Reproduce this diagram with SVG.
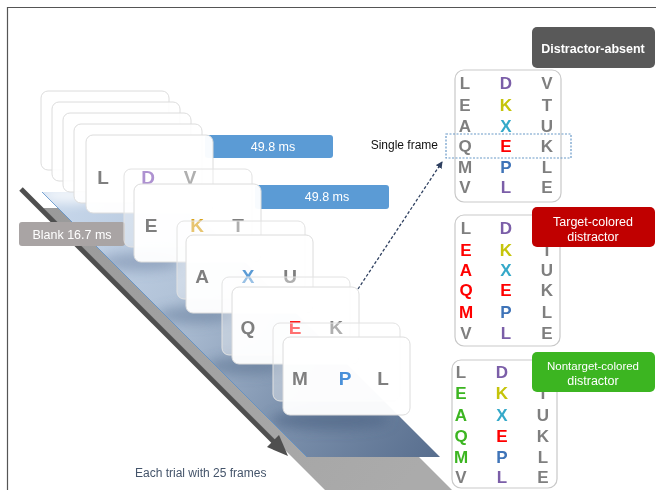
<svg xmlns="http://www.w3.org/2000/svg" width="656" height="490" viewBox="0 0 656 490">
<defs>
<style>
.fb{fill:#fff;fill-opacity:0.92;stroke:#dcdcdc;stroke-width:1}
.fk{fill:#fff;fill-opacity:0.38;stroke:#e2e2e2;stroke-width:1}
.ff{fill:#fff;fill-opacity:0.96;stroke:#dcdcdc;stroke-width:1}
.fl{font-family:"Liberation Sans",Arial,sans-serif;font-weight:bold;font-size:19px;text-anchor:middle}
.gl{font-family:"Liberation Sans",Arial,sans-serif;font-weight:bold;font-size:17px;text-anchor:middle}
.lab{font-family:"Liberation Sans",Arial,sans-serif;font-size:12.5px;fill:#fff;text-anchor:middle}
.gry{fill:#7f7f7f}
.grid{fill:#fff;stroke:#c9c9c9;stroke-width:1.2}
</style>
<linearGradient id="floorG" gradientUnits="userSpaceOnUse" x1="42" y1="192" x2="440" y2="457">
<stop offset="0" stop-color="#c9d9ed"/>
<stop offset="0.35" stop-color="#b2c3d8"/>
<stop offset="0.7" stop-color="#7a8fab"/>
<stop offset="1" stop-color="#586e8e"/>
</linearGradient>
<linearGradient id="shadG" gradientUnits="userSpaceOnUse" x1="43" y1="208" x2="400" y2="490">
<stop offset="0" stop-color="#9a9a9a"/>
<stop offset="1" stop-color="#ababab"/>
</linearGradient>
<filter id="blur" x="-50%" y="-50%" width="200%" height="200%"><feGaussianBlur stdDeviation="6"/></filter>
<clipPath id="floorClip"><polygon points="42,192 175,192 440,457 307,457"/></clipPath>
<marker id="ah" markerWidth="8" markerHeight="8" refX="6" refY="4" orient="auto" markerUnits="userSpaceOnUse">
<path d="M0,0.5 L7,4 L0,7.5 Z" fill="#2f4060"/>
</marker>
</defs>
<rect width="656" height="490" fill="#fff"/>
<path d="M7.5,490 V7.5 H656" fill="none" stroke="#555" stroke-width="1.2"/>

<g id="timeline">
<polygon points="43,208 170,208 452,490 325,490" fill="url(#shadG)"/>
<polygon points="42,192 175,192 440,457 307,457" fill="url(#floorG)"/>
<g clip-path="url(#floorClip)" filter="url(#blur)">
<ellipse cx="140" cy="262" rx="40" ry="9" fill="#6f86a6" opacity="0.5"/>
<ellipse cx="195" cy="315" rx="40" ry="9" fill="#5f7797" opacity="0.5"/>
<ellipse cx="245" cy="366" rx="40" ry="9" fill="#556d8d" opacity="0.5"/>
<ellipse cx="330" cy="420" rx="60" ry="10" fill="#4b6283" opacity="0.6"/>
<ellipse cx="70" cy="195" rx="30" ry="8" fill="#ffffff" opacity="0.8"/>
</g>
<line x1="42" y1="192" x2="307" y2="457" stroke="#5b8fc8" stroke-width="0.8"/>
<line x1="21" y1="189" x2="279" y2="447" stroke="#4f4f4f" stroke-width="5"/>
<polygon points="288,456 267,447 279,435" fill="#4f4f4f"/>
</g>

<g id="blank-label">
<rect x="19" y="222" width="106" height="24" rx="3" fill="#a9a4a4"/>
<text class="lab" x="72" y="239">Blank 16.7 ms</text>
</g>

<g id="frame-stack">
<rect class="fb" x="41" y="91" width="128" height="79" rx="7"/>
<rect class="fb" x="52" y="102" width="128" height="79" rx="7"/>
<rect class="fb" x="63" y="113" width="128" height="79" rx="7"/>
<rect class="fb" x="74" y="124" width="128" height="79" rx="7"/>
</g>

<g id="bar1">
<rect x="205" y="135" width="128" height="23" rx="3" fill="#5b9bd5"/>
<text class="lab" x="273" y="151">49.8 ms</text>
</g>

<g id="frame1">
<rect class="ff" x="86" y="135" width="127" height="78" rx="7"/>
<text class="fl gry" x="103" y="184">L</text>
<text class="fl" x="148" y="184" fill="#7d4fb5">D</text>
<text class="fl gry" x="190" y="184">V</text>
</g>

<g id="bar2">
<rect x="255" y="185" width="134" height="24" rx="3" fill="#5b9bd5"/>
<text class="lab" x="327" y="201">49.8 ms</text>
</g>

<g id="frame2">
<rect class="fk" x="124" y="169" width="128" height="78" rx="7"/>
<rect class="ff" x="134" y="184" width="127" height="78" rx="7"/>
<text class="fl gry" x="151" y="232">E</text>
<text class="fl" x="197" y="232" fill="#d9a21a">K</text>
<text class="fl gry" x="238" y="232">T</text>
</g>

<g id="frame3">
<rect class="fk" x="177" y="221" width="128" height="78" rx="7"/>
<rect class="ff" x="186" y="235" width="127" height="78" rx="7"/>
<text class="fl gry" x="202" y="283">A</text>
<text class="fl" x="248" y="283" fill="#5b9bd5">X</text>
<text class="fl gry" x="290" y="283">U</text>
</g>

<g id="frame4">
<rect class="fk" x="222" y="277" width="128" height="78" rx="7"/>
<rect class="ff" x="232" y="287" width="127" height="77" rx="7"/>
<text class="fl gry" x="248" y="334">Q</text>
<text class="fl" x="295" y="334" fill="#ff1a1a">E</text>
<text class="fl gry" x="336" y="334">K</text>
</g>

<g id="frame5">
<rect class="fk" x="273" y="323" width="127" height="78" rx="7"/>
<rect class="ff" x="283" y="337" width="127" height="78" rx="7"/>
<text class="fl gry" x="300" y="385">M</text>
<text class="fl" x="345" y="385" fill="#4a90d9">P</text>
<text class="fl gry" x="383" y="385">L</text>
</g>

<g id="trial-caption">
<text x="135" y="477" style="font-family:'Liberation Sans',Arial,sans-serif;font-size:12px;fill:#44546a">Each trial with 25 frames</text>
</g>

<g id="grid-absent">
<rect class="grid" x="455" y="70" width="106" height="132" rx="9"/>
<g class="gl">
<text x="465" y="89" class="gry">L</text><text x="506" y="89" fill="#7b5ea8">D</text><text x="547" y="89" class="gry">V</text>
<text x="465" y="111" class="gry">E</text><text x="506" y="111" fill="#c5c40a">K</text><text x="547" y="111" class="gry">T</text>
<text x="465" y="132" class="gry">A</text><text x="506" y="132" fill="#35a9c9">X</text><text x="547" y="132" class="gry">U</text>
<text x="465" y="152" class="gry">Q</text><text x="506" y="152" fill="#ff0000">E</text><text x="547" y="152" class="gry">K</text>
<text x="465" y="173" class="gry">M</text><text x="506" y="173" fill="#3f74b8">P</text><text x="547" y="173" class="gry">L</text>
<text x="465" y="193" class="gry">V</text><text x="506" y="193" fill="#7b5ea8">L</text><text x="547" y="193" class="gry">E</text>
</g>
</g>

<g id="single-frame">
<rect x="446" y="134" width="125" height="24" fill="none" stroke="#6a9ac8" stroke-width="1.2" stroke-dasharray="2,1.5"/>
<text x="438" y="149" text-anchor="end" style="font-family:'Liberation Sans',Arial,sans-serif;font-size:12px;fill:#111">Single frame</text>
</g>

<g id="label-absent">
<rect x="532" y="27" width="123" height="41" rx="5" fill="#595959"/>
<text class="lab" x="593" y="53" style="font-weight:bold;font-size:12.5px">Distractor-absent</text>
</g>

<g id="grid-target">
<rect class="grid" x="455" y="215" width="105" height="131" rx="9"/>
<g class="gl">
<text x="466" y="234" class="gry">L</text><text x="506" y="234" fill="#7b5ea8">D</text><text x="547" y="234" class="gry">V</text>
<text x="466" y="256" fill="#ff0000">E</text><text x="506" y="256" fill="#c5c40a">K</text><text x="547" y="256" class="gry">T</text>
<text x="466" y="276" fill="#ff0000">A</text><text x="506" y="276" fill="#35a9c9">X</text><text x="547" y="276" class="gry">U</text>
<text x="466" y="296" fill="#ff0000">Q</text><text x="506" y="296" fill="#ff0000">E</text><text x="547" y="296" class="gry">K</text>
<text x="466" y="318" fill="#ff0000">M</text><text x="506" y="318" fill="#3f74b8">P</text><text x="547" y="318" class="gry">L</text>
<text x="466" y="339" class="gry">V</text><text x="506" y="339" fill="#7b5ea8">L</text><text x="547" y="339" class="gry">E</text>
</g>
</g>

<g id="label-target">
<rect x="532" y="207" width="123" height="40" rx="5" fill="#c00000"/>
<text class="lab" x="593" y="226">Target-colored</text>
<text class="lab" x="593" y="241">distractor</text>
</g>

<g id="grid-nontarget">
<rect class="grid" x="452" y="360" width="105" height="128" rx="9"/>
<g class="gl">
<text x="461" y="378" class="gry">L</text><text x="502" y="378" fill="#7b5ea8">D</text><text x="543" y="378" class="gry">V</text>
<text x="461" y="399" fill="#3cb521">E</text><text x="502" y="399" fill="#c5c40a">K</text><text x="543" y="399" class="gry">T</text>
<text x="461" y="421" fill="#3cb521">A</text><text x="502" y="421" fill="#35a9c9">X</text><text x="543" y="421" class="gry">U</text>
<text x="461" y="442" fill="#3cb521">Q</text><text x="502" y="442" fill="#ff0000">E</text><text x="543" y="442" class="gry">K</text>
<text x="461" y="463" fill="#3cb521">M</text><text x="502" y="463" fill="#3f74b8">P</text><text x="543" y="463" class="gry">L</text>
<text x="461" y="483" class="gry">V</text><text x="502" y="483" fill="#7b5ea8">L</text><text x="543" y="483" class="gry">E</text>
</g>
</g>

<g id="label-nontarget">
<rect x="532" y="352" width="123" height="40" rx="5" fill="#3cb521"/>
<text class="lab" x="593" y="370" style="font-size:11.5px">Nontarget-colored</text>
<text class="lab" x="593" y="385">distractor</text>
</g>

<g id="connectors">
<line x1="358" y1="289" x2="442" y2="162" stroke="#2f4060" stroke-width="1.3" stroke-dasharray="3,2" marker-end="url(#ah)"/>
</g>
</svg>
